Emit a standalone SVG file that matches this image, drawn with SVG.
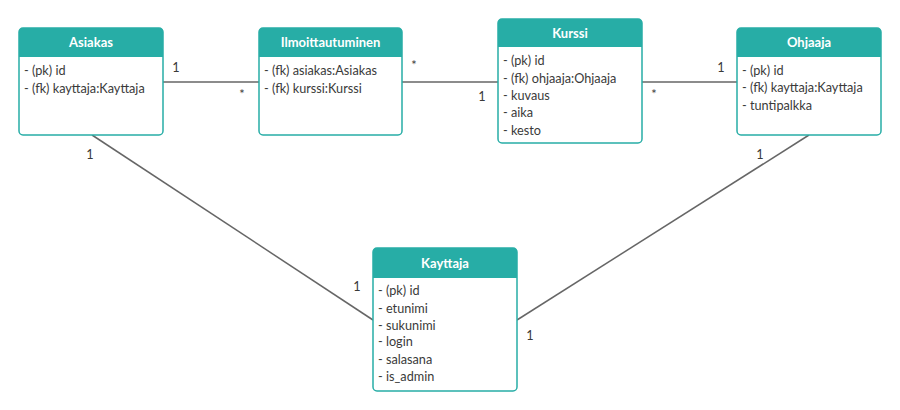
<svg xmlns="http://www.w3.org/2000/svg" width="900" height="410" viewBox="0 0 900 410">
<style>
.box{fill:#fff;stroke:#27ADA6;stroke-width:1.5}
.hdr{fill:#27ADA6}
.title{font-family:Lato,"Open Sans",sans-serif;font-weight:bold;font-size:13px;fill:#fff;text-anchor:middle}
.attr{font-family:Lato,"Open Sans",sans-serif;font-size:12.7px;fill:#3a3a3a}
.conn line{stroke:#666;stroke-width:1.5}
.lbl{font-family:Lato,"Open Sans",sans-serif;font-size:12.7px;fill:#3a3a3a;text-anchor:middle}
</style>
<rect width="900" height="410" fill="#fff"/>
<g id="connectors" class="conn">
<line x1="163" y1="82" x2="259" y2="82"/>
<line x1="402" y1="82" x2="498" y2="82"/>
<line x1="642" y1="82" x2="737" y2="82"/>
<line x1="92" y1="135" x2="373" y2="320"/>
<line x1="809" y1="135" x2="517" y2="320"/>
<text class="lbl" x="176" y="72">1</text>
<text class="lbl" x="242" y="99">*</text>
<text class="lbl" x="414" y="70">*</text>
<text class="lbl" x="482" y="101">1</text>
<text class="lbl" x="654" y="99">*</text>
<text class="lbl" x="721" y="72">1</text>
<text class="lbl" x="90" y="159">1</text>
<text class="lbl" x="357" y="291">1</text>
<text class="lbl" x="530" y="340">1</text>
<text class="lbl" x="760" y="159">1</text>
</g>
<g id="asiakas">
<rect class="box" x="19" y="28" width="144" height="107" rx="4"/>
<path class="hdr" d="M19,57 V32 a4,4 0 0 1 4,-4 H159 a4,4 0 0 1 4,4 V57 Z"/>
<text class="title" x="91" y="47">Asiakas</text>
<text class="attr" x="24" y="75">- (pk) id</text>
<text class="attr" x="24" y="93">- (fk) kayttaja:Kayttaja</text>
</g>
<g id="ilmoittautuminen">
<rect class="box" x="259" y="28" width="143" height="107" rx="4"/>
<path class="hdr" d="M259,57 V32 a4,4 0 0 1 4,-4 H398 a4,4 0 0 1 4,4 V57 Z"/>
<text class="title" x="330.5" y="47">Ilmoittautuminen</text>
<text class="attr" x="264" y="75">- (fk) asiakas:Asiakas</text>
<text class="attr" x="264" y="93">- (fk) kurssi:Kurssi</text>
</g>
<g id="kurssi">
<rect class="box" x="498" y="19" width="144" height="124" rx="4"/>
<path class="hdr" d="M498,47 V23 a4,4 0 0 1 4,-4 H638 a4,4 0 0 1 4,4 V47 Z"/>
<text class="title" x="570" y="38">Kurssi</text>
<text class="attr" x="503" y="65">- (pk) id</text>
<text class="attr" x="503" y="82.5">- (fk) ohjaaja:Ohjaaja</text>
<text class="attr" x="503" y="100">- kuvaus</text>
<text class="attr" x="503" y="117">- aika</text>
<text class="attr" x="503" y="134.5">- kesto</text>
</g>
<g id="ohjaaja">
<rect class="box" x="737" y="28" width="144" height="107" rx="4"/>
<path class="hdr" d="M737,57 V32 a4,4 0 0 1 4,-4 H877 a4,4 0 0 1 4,4 V57 Z"/>
<text class="title" x="809" y="47">Ohjaaja</text>
<text class="attr" x="742" y="74.5">- (pk) id</text>
<text class="attr" x="742" y="92">- (fk) kayttaja:Kayttaja</text>
<text class="attr" x="742" y="110">- tuntipalkka</text>
</g>
<g id="kayttaja">
<rect class="box" x="373" y="248" width="144" height="143" rx="4"/>
<path class="hdr" d="M373,278 V252 a4,4 0 0 1 4,-4 H513 a4,4 0 0 1 4,4 V278 Z"/>
<text class="title" x="445" y="268">Kayttaja</text>
<text class="attr" x="378" y="295">- (pk) id</text>
<text class="attr" x="378" y="312.5">- etunimi</text>
<text class="attr" x="378" y="330">- sukunimi</text>
<text class="attr" x="378" y="346">- login</text>
<text class="attr" x="378" y="363.5">- salasana</text>
<text class="attr" x="378" y="381">- is_admin</text>
</g>
</svg>
